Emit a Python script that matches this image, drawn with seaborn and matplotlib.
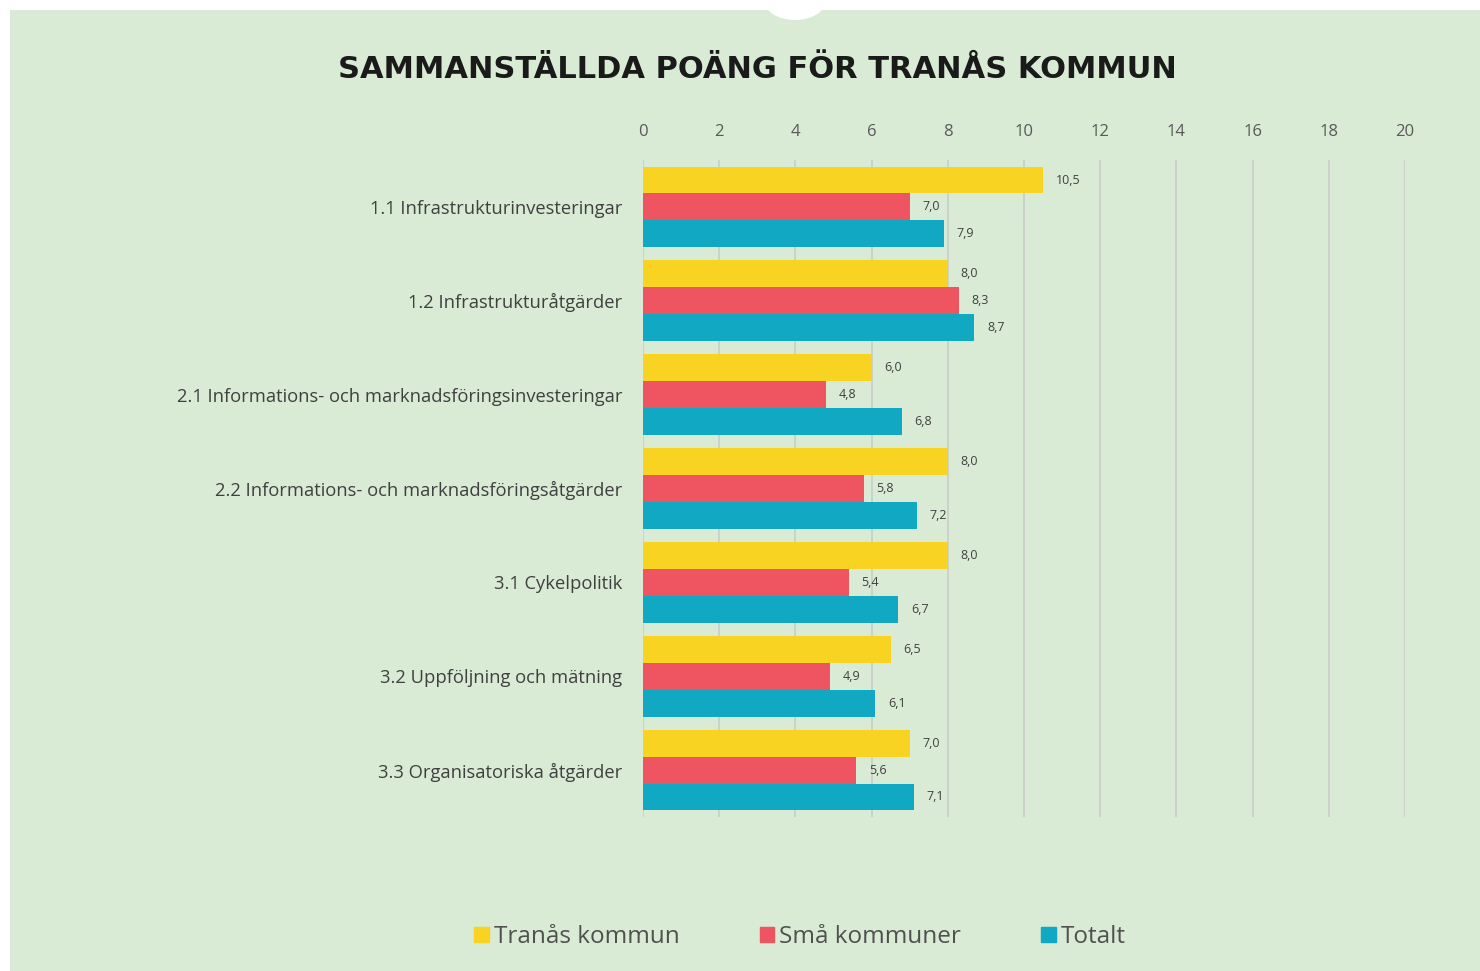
import matplotlib
matplotlib.use("Agg")
import matplotlib.pyplot as plt
import matplotlib.patches as mpatches
import seaborn as sns
import pandas as pd

categories = [
    "1.1 Infrastrukturinvesteringar",
    "1.2 Infrastrukturåtgärder",
    "2.1 Informations- och marknadsföringsinvesteringar",
    "2.2 Informations- och marknadsföringsåtgärder",
    "3.1 Cykelpolitik",
    "3.2 Uppföljning och mätning",
    "3.3 Organisatoriska åtgärder",
]
series = ["Tranås kommun", "Små kommuner", "Totalt"]
tranas = [10.5, 8.0, 6.0, 8.0, 8.0, 6.5, 7.0]
sma = [7.0, 8.3, 4.8, 5.8, 5.4, 4.9, 5.6]
totalt = [7.9, 8.7, 6.8, 7.2, 6.7, 6.1, 7.1]
xticks = [0, 2, 4, 6, 8, 10, 12, 14, 16, 18, 20]
colors = ["#F8D322", "#EF5461", "#10A8C3"]

rows = []
for s, vals in zip(series, [tranas, sma, totalt]):
    for c, v in zip(categories, vals):
        rows.append({"Kategori": c, "Serie": s, "Poäng": v})
df = pd.DataFrame(rows)

sns.set_theme(style="white")
plt.rcParams['font.family'] = ['Open Sans', 'DejaVu Sans']

bg = "#D9EAD5"
fig = plt.figure(figsize=(14.8, 9.71), dpi=100)
fig.patch.set_facecolor("white")
fig.patches.append(mpatches.Rectangle((10/1480, 0), 1 - 10/1480, 1 - 10/971,
                                      transform=fig.transFigure, facecolor=bg,
                                      edgecolor="none", zorder=-10))
fig.patches.append(mpatches.Ellipse((795/1480, 1 - 2/971), 60/1480, 36/971,
                                    transform=fig.transFigure, facecolor="white",
                                    edgecolor="none", zorder=-9))

ax = fig.add_axes([643/1480, 1 - 817/971, 762/1480, 657/971])
ax.set_facecolor(bg)
ax.patch.set_alpha(0)

sns.barplot(data=df, y="Kategori", x="Poäng", hue="Serie", orient="h",
            palette=colors, width=0.86, ax=ax, legend=False, saturation=1,
            edgecolor="none")

for cont in ax.containers:
    ax.bar_label(cont, labels=[f"{v:.1f}".replace(".", ",") for v in cont.datavalues],
                 padding=9, fontsize=9, color="#404040")

ax.set_xlim(0, 20)
ax.set_xticks(xticks)
ax.set_xticklabels([str(t) for t in xticks], fontsize=12, color="#595959")
ax.xaxis.tick_top()
ax.tick_params(axis="x", length=0, pad=14.5)
ax.tick_params(axis="y", length=0, pad=15, labelsize=13.2, labelcolor="#404040")
ax.set_xlabel("")
ax.set_ylabel("")
ax.grid(axis="x", color="#C9CCC9", linewidth=1.2)
ax.set_axisbelow(True)
for sp in ax.spines.values():
    sp.set_visible(False)

fig.text(757/1480, 1 - 70/971, "SAMMANSTÄLLDA POÄNG FÖR TRANÅS KOMMUN",
         ha="center", va="center", fontsize=22, fontweight="heavy",
         color="#1A1A1A", family=["DejaVu Sans"])

handles = [mpatches.Patch(color=c, label=s) for c, s in zip(colors, series)]
fig.legend(handles=handles, loc="center", bbox_to_anchor=(800/1480, 1 - 937/971),
           ncol=3, frameon=False, fontsize=17.5, handlelength=0.6, handleheight=0.6,
           handletextpad=0.2, columnspacing=3.3, labelcolor="#505050")

fig.savefig("out.png", dpi=100, facecolor=fig.get_facecolor())
